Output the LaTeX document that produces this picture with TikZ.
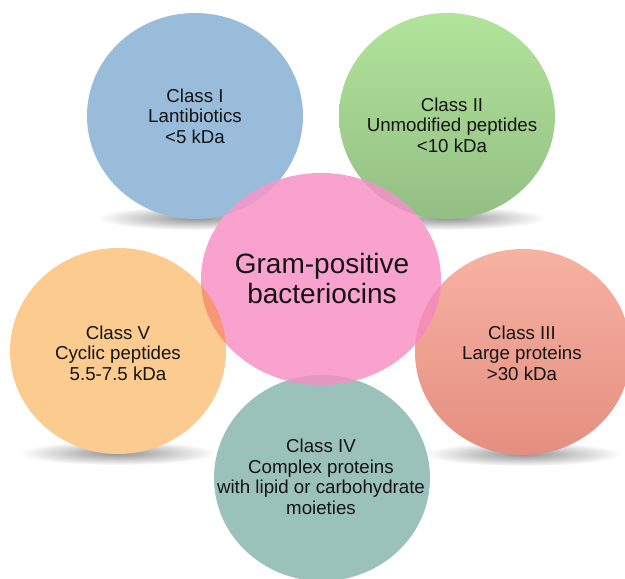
\documentclass[tikz,border=0pt]{standalone}
\usepackage{fontspec}
\setmainfont{Liberation Sans}
\usetikzlibrary{fadings}
\tikzfading[name=shadowfade, inner color=transparent!15, outer color=transparent!100]
\definecolor{cblue}{HTML}{9ABCDB}
\definecolor{cgreentop}{HTML}{B2E49B}
\definecolor{cgreenbot}{HTML}{93BF83}
\definecolor{cpink}{HTML}{F9A2CE}
\definecolor{corange}{HTML}{FBCB8F}
\definecolor{credtop}{HTML}{F7B2A2}
\definecolor{credbot}{HTML}{E48E80}
\definecolor{cteal}{HTML}{9BC2BA}
\definecolor{ovblue}{HTML}{E89CCB}
\definecolor{ovgreen}{HTML}{E398BD}
\definecolor{ovorange}{HTML}{F89873}
\definecolor{ovred}{HTML}{F68CB8}
\definecolor{ovteal}{HTML}{E298C0}
\begin{document}
\begin{tikzpicture}[x=1pt,y=-1pt,
  lbl/.style={align=center, font=\fontsize{18.7}{20.6}\selectfont, text=black!92, inner sep=0pt},
  bigl/.style={align=center, font=\fontsize{28}{30}\selectfont, text=black!92, inner sep=0pt},
  shadowpath/.style={fill=black!50, path fading=shadowfade},
  sm/.style={x radius=108, y radius=103},
  bg/.style={x radius=120, y radius=106}]
\useasboundingbox (0,0) rectangle (625,579);
\clip (0,0) rectangle (625,579);
\fill[white] (0,0) rectangle (625,579);
% centres
\coordinate (c1) at (195,116);
\coordinate (c2) at (447,116);
\coordinate (cc) at (321,279);
\coordinate (c5) at (118,351);
\coordinate (c3) at (523,352);
\coordinate (c4) at (322,478);
% shadows
\fill[shadowpath] (195,218) ellipse [x radius=98, y radius=12];
\fill[shadowpath] (447,218) ellipse [x radius=98, y radius=12];
\fill[shadowpath] (118,453) ellipse [x radius=98, y radius=12];
\fill[shadowpath] (523,454) ellipse [x radius=98, y radius=12];
% circles
\fill[cblue] (c1) ellipse [sm];
\shade[top color=cgreentop, bottom color=cgreenbot] (c2) ellipse [sm];
\fill[corange] (c5) ellipse [sm];
\shade[top color=credtop, bottom color=credbot] (c3) ellipse [sm];
\fill[cteal] (c4) ellipse [sm];
\fill[cpink] (cc) ellipse [bg];
% overlaps
\begin{scope}\clip (c1) ellipse [sm]; \fill[ovblue] (cc) ellipse [bg];\end{scope}
\begin{scope}\clip (c2) ellipse [sm]; \fill[ovgreen] (cc) ellipse [bg];\end{scope}
\begin{scope}\clip (c5) ellipse [sm]; \fill[ovorange] (cc) ellipse [bg];\end{scope}
\begin{scope}\clip (c3) ellipse [sm]; \fill[ovred] (cc) ellipse [bg];\end{scope}
\begin{scope}\clip (c4) ellipse [sm]; \fill[ovteal] (cc) ellipse [bg];\end{scope}
% texts
\node[lbl] (t1) at (195,116) {Class I\\Lantibiotics\\<5 kDa};
\node[lbl] (t2) at (452,125) {Class II\\Unmodified peptides\\<10 kDa};
\node[bigl] (tc) at (322,278) {Gram-positive\\bacteriocins};
\node[lbl] (t5) at (118,353) {Class V\\Cyclic peptides\\5.5-7.5 kDa};
\node[lbl] (t3) at (522,353) {Class III\\Large proteins\\>30 kDa};
\node[lbl] (t4) at (321,477) {Class IV\\Complex proteins\\with lipid or carbohydrate\\moieties};
\end{tikzpicture}
\end{document}
